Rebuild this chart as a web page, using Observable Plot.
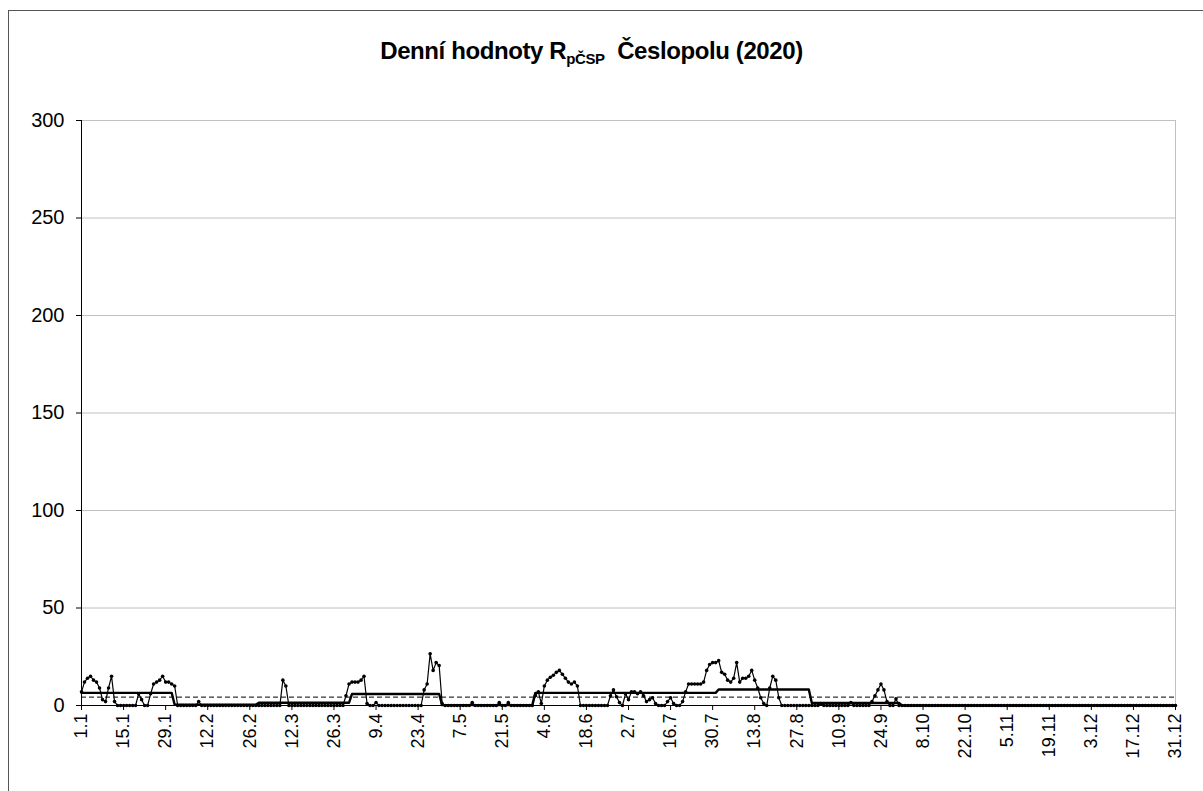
<!DOCTYPE html>
<html><head><meta charset="utf-8">
<script src="https://cdn.jsdelivr.net/npm/d3@7"></script>
<script src="https://cdn.jsdelivr.net/npm/@observablehq/plot@0.6"></script>
<style>
html,body{margin:0;padding:0;background:#fff;overflow:hidden;}
body{font-family:"Liberation Sans",Arial,sans-serif;width:1203px;height:791px;position:relative;}
#frame{position:absolute;left:8px;top:10px;width:1220px;height:820px;border:1px solid #555;z-index:5;pointer-events:none;background:transparent;}
#title{position:absolute;left:0;top:37px;width:1183px;text-align:center;font-weight:bold;font-size:24px;color:#000;letter-spacing:-0.4px;}
#title sub{font-size:15px;vertical-align:-5px;}
#chart{position:absolute;left:0;top:95px;}
</style></head><body>
<div id="frame"></div>
<div id="title">Denní hodnoty R<sub>pČSP</sub>&nbsp; Česlopolu (2020)</div>
<div id="chart"></div>
<script>
// daily values per month (2020, chart uses 365 categories)
const jan = [7,12,14,15,13,12,9,3,2,9,15,2,0,0,0,0,0,0,0,6,3,0,0,6,11,12,13,15,12,12,11];
const feb = [10,0,0,0,0,0,0,0,2,0,0,0,0,0,0,0,0,0,0,0,0,0,0,0,0,0,0,0];
const mar = [0,0,0,0,0,0,0,0,13,10,0,0,0,0,0,0,0,0,0,0,0,0,0,0,0,0,0,0,0,5,11];
const apr = [12,12,12,13,15,1,0,0,1.5,0,0,0,0,0,0,0,0,0,0,0,0,0,0,0,8,11,26.5,18,22,20.5];
const may = [1,0,0,0,0,0,0,0,0,0,1.5,0,0,0,0,0,0,0,0,1.5,0,0,1.5,0,0,0,0,0,0,0,0];
const jun = [5,7,1,10,13,14.5,15.5,17,18,16,14,12,11,12,10,0,0,0,0,0,0,0,0,0,0,5,8,4.5,1.5,0];
const jul = [6,3,7,7,6,7,5,2,3,4,1,0,0,0,2,4,1,0,0,2,7,11,11,11,11,11,12,18,21,22,22];
const aug = [23,17,16,13,12,14,22,12,14,14,15,18,13,9,4,1,0,9,15,13,4,0,0,0,0,0,0,0,0,0,0];
const sep = [0,0,0,1,0,0,0,0,0,0,0,0,0,1.5,0,0,0,0,0,0,2,5,8,11,8,2,0,0,3.5,0];
const oct = [0,0,0,0,0,0,0,0,0,0,0,0,0,0,0,0,0,0,0,0,0,0,0,0,0,0,0,0,0,0,0];
const nov = [0,0,0,0,0,0,0,0,0,0,0,0,0,0,0,0,0,0,0,0,0,0,0,0,0,0,0,0,0,0];
const dec = [0,0,0,0,0,0,0,0,0,0,0,0,0,0,0,0,0,0,0,0,0,0,0,0,0,0,0,0,0,0,0];
// monthly mean level (thick stepped line)
const monthlyMean = [6.5,0.4,1.4,5.9,0.2,6.5,6.5,8.2,1.3,0,0,0];
// dashed reference level
const threshold = [4.3];
const xTickLabels = ["1.1","15.1","29.1","12.2","26.2","12.3","26.3","9.4","23.4","7.5","21.5","4.6","18.6","2.7","16.7","30.7","13.8","27.8","10.9","24.9","8.10","22.10","5.11","19.11","3.12","17.12","31.12"];
const yTicks = [0,50,100,150,200,250,300];

const months = [jan,feb,mar,apr,may,jun,jul,aug,sep,oct,nov,dec];
const cum = [0]; months.forEach(m => cum.push(cum[cum.length-1] + m.length));
const rows = [];
const meanRows = [];
months.forEach((m, mi) => m.forEach((v, k) => {
  rows.push({day: cum[mi] + k, value: v});
  meanRows.push({day: cum[mi] + k, value: monthlyMean[mi]});
}));
const labelDay = s => { const [d, m] = s.split(".").map(Number); return cum[m-1] + d - 1; };
const tickDays = xTickLabels.map(labelDay);
const labelMap = new Map(xTickLabels.map(s => [labelDay(s), s]));

const chart = Plot.plot({
  width: 1203, height: 696,
  marginLeft: 81, marginRight: 28, marginTop: 25, marginBottom: 86,
  x: {domain: [0, 364]},
  y: {domain: [0, 300]},
  style: {fontFamily: "'Liberation Sans', Arial, sans-serif", background: "transparent", color: "black"},
  marks: [
    Plot.gridY(yTicks, {stroke: "#c0c0c0", strokeOpacity: 1}),
    Plot.frame({stroke: "#c0c0c0"}),
    Plot.ruleY(threshold, {stroke: "black", strokeWidth: 1, strokeDasharray: "5,3"}),
    Plot.line(meanRows, {x: "day", y: "value", stroke: "black", strokeWidth: 2.4}),
    Plot.line(rows, {x: "day", y: "value", stroke: "black", strokeWidth: 1.2}),
    Plot.dot(rows, {x: "day", y: "value", r: 1.8, fill: "black", stroke: null}),
    Plot.ruleX([0], {stroke: "black"}),
    Plot.ruleY([0], {stroke: "black"}),
    Plot.axisY(yTicks, {tickSize: 5, tickPadding: 12, fontSize: 20, label: null}),
    Plot.axisX(tickDays, {tickSize: 5, tickPadding: 3, tickRotate: -90, fontSize: 18, label: null,
      tickFormat: d => labelMap.get(d)})
  ]
});
document.getElementById("chart").appendChild(chart);
</script>
</body></html>
